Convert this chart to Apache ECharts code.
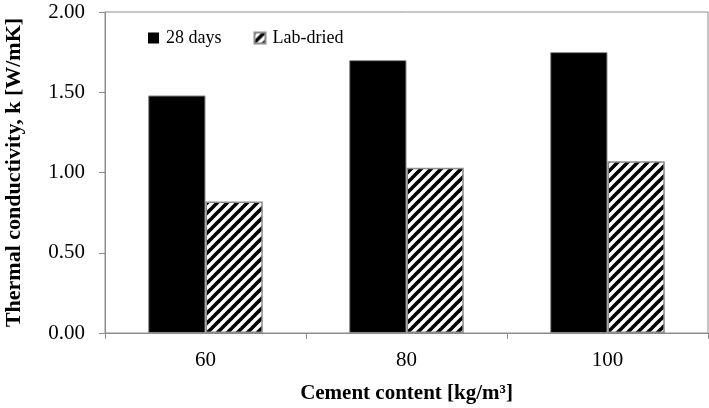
<!DOCTYPE html>
<html>
<head>
<meta charset="utf-8">
<script src="https://cdn.jsdelivr.net/npm/echarts@6/dist/echarts.min.js"></script>
<style>html,body{margin:0;padding:0;background:#fff}#c{width:709px;height:408px}</style>
</head>
<body>
<div id="c"></div>
<script>
var categories = ['60', '80', '100'];
var days28 = [1.48, 1.70, 1.75];
var labDried = [0.82, 1.03, 1.07];
var seriesNames = ['28 days', 'Lab-dried'];

function makeHatch() {
  var s = 10;
  var cv = document.createElement('canvas');
  cv.width = s; cv.height = s;
  var ctx = cv.getContext('2d');
  ctx.fillStyle = '#fff';
  ctx.fillRect(0, 0, s, s);
  ctx.strokeStyle = '#000';
  ctx.lineWidth = 3.6;
  [0, s, 2 * s].forEach(function (c) {
    ctx.beginPath();
    ctx.moveTo(c + 2, -2);
    ctx.lineTo(-2, c + 2);
    ctx.stroke();
  });
  return cv;
}

var chart = echarts.init(document.getElementById('c'));
var font = '"Liberation Serif", "Times New Roman", serif';
chart.setOption({
  animation: false,
  textStyle: { fontFamily: font },
  grid: { left: 105, right: 1, top: 12, bottom: 75, show: true, borderColor: '#8c8c8c', borderWidth: 1,
    containLabel: false, outerBoundsMode: 'none' },
  legend: {
    left: 143, top: 24, itemWidth: 11, itemHeight: 11, itemGap: 32,
    textStyle: { fontFamily: font, fontSize: 18, color: '#000', padding: [0, 0, 0, 2] },
    data: [
      { name: seriesNames[0], icon: 'rect', itemStyle: { borderWidth: 0 } },
      { name: seriesNames[1], icon: 'rect' }
    ]
  },
  xAxis: {
    type: 'category', data: categories,
    name: 'Cement content [kg/m³]', nameLocation: 'middle', nameGap: 50,
    nameTextStyle: { fontFamily: font, fontSize: 21, fontWeight: 'bold', color: '#000' },
    axisLine: { lineStyle: { color: '#8c8c8c' } },
    axisTick: { show: true, alignWithLabel: false, length: 6, lineStyle: { color: '#8c8c8c' } },
    axisLabel: { fontFamily: font, fontSize: 21, color: '#000', margin: 17 }
  },
  yAxis: {
    type: 'value', min: 0, max: 2, interval: 0.5,
    name: 'Thermal conductivity, k [W/mK]', nameLocation: 'middle', nameGap: 80,
    nameTextStyle: { fontFamily: font, fontSize: 22, fontWeight: 'bold', color: '#000' },
    axisLine: { show: true, lineStyle: { color: '#8c8c8c' } },
    axisTick: { show: true, length: 6, lineStyle: { color: '#8c8c8c' } },
    splitLine: { show: false },
    axisLabel: { fontFamily: font, fontSize: 21, color: '#000', margin: 20,
      formatter: function (v) { return v.toFixed(2); } }
  },
  series: [
    { name: seriesNames[0], type: 'bar', data: days28, barGap: '0%', barCategoryGap: '43%',
      itemStyle: { color: '#000', borderColor: '#8c8c8c', borderWidth: 1 } },
    { name: seriesNames[1], type: 'bar', data: labDried, barGap: '0%', barCategoryGap: '43%',
      itemStyle: { color: { image: makeHatch(), repeat: 'repeat' }, borderColor: '#8c8c8c', borderWidth: 1.5 } }
  ]
});
</script>
</body>
</html>
